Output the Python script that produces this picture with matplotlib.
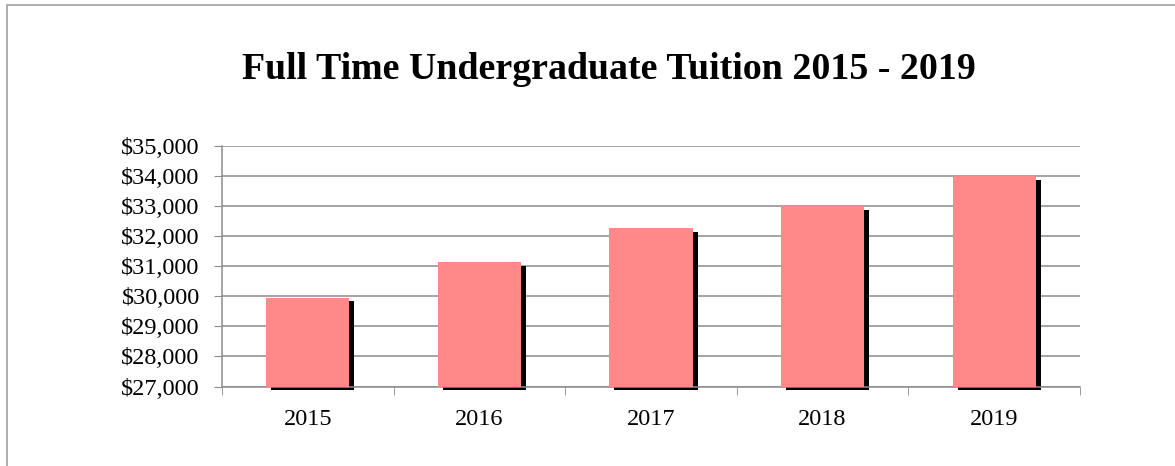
"""Full time undergraduate tuition bar chart."""

import matplotlib

matplotlib.use('Agg')
import matplotlib.pyplot as plt
from matplotlib.patches import Rectangle
from matplotlib.ticker import FuncFormatter
from matplotlib.transforms import ScaledTranslation

years = ['2015', '2016', '2017', '2018', '2019']
tuition = [29950, 31140, 32260, 32990, 34000]

BAR_COLOR = '#FF8888'
GRID_COLOR = '#8C8C8C'

plt.rcParams['font.family'] = ['Liberation Serif', 'DejaVu Serif']

fig = plt.figure(figsize=(11.75, 4.66), dpi=100)
ax = fig.add_axes([0.1889, 0.1706, 0.9191 - 0.1889, 0.6867 - 0.1706])

# outer frame of the chart (only top and left show in the crop)
fig.patches.append(Rectangle((7 / 1175, -0.1), 2, 1 - 5 / 466 + 0.1,
                             transform=fig.transFigure, fill=False,
                             edgecolor='#A0A0A0', linewidth=1.2))

x = list(range(len(years)))
base = 27000
heights = [v - base for v in tuition]

# black drop shadow, shifted a few pixels right and down
shadow = ax.transData + ScaledTranslation(5 / 100, -3.5 / 100, fig.dpi_scale_trans)
ax.bar(x, heights, bottom=base, width=0.485, color='black',
       transform=shadow, clip_on=False, zorder=2)
ax.bar(x, heights, bottom=base, width=0.485, color=BAR_COLOR, zorder=3)

ax.set_xlim(-0.5, len(years) - 0.5)
ax.set_ylim(27000, 35000)
ax.set_yticks(range(27000, 35001, 1000))
ax.yaxis.set_major_formatter(FuncFormatter(lambda v, _: f'${v:,.0f}'))
ax.set_xticks(x)
ax.set_xticklabels(years)
ax.set_xticks([i - 0.5 for i in range(len(years) + 1)], minor=True)

ax.grid(axis='y', color=GRID_COLOR, linewidth=1.1, zorder=0)
ax.set_axisbelow(True)
for side in ('top', 'right'):
    ax.spines[side].set_visible(False)
for side in ('left', 'bottom'):
    ax.spines[side].set_color(GRID_COLOR)
    ax.spines[side].set_linewidth(1.1)

ax.tick_params(axis='y', length=6, color=GRID_COLOR, labelsize=17.5, pad=10)
ax.tick_params(axis='x', which='major', length=0, labelsize=17.5, pad=16)
ax.tick_params(axis='x', which='minor', length=6, color=GRID_COLOR)

fig.text(0.518, 0.85, 'Full Time Undergraduate Tuition 2015 - 2019',
         ha='center', va='center', fontsize=27.3, fontweight='bold')

fig.savefig('out.png', dpi=100)
plt.close(fig)
